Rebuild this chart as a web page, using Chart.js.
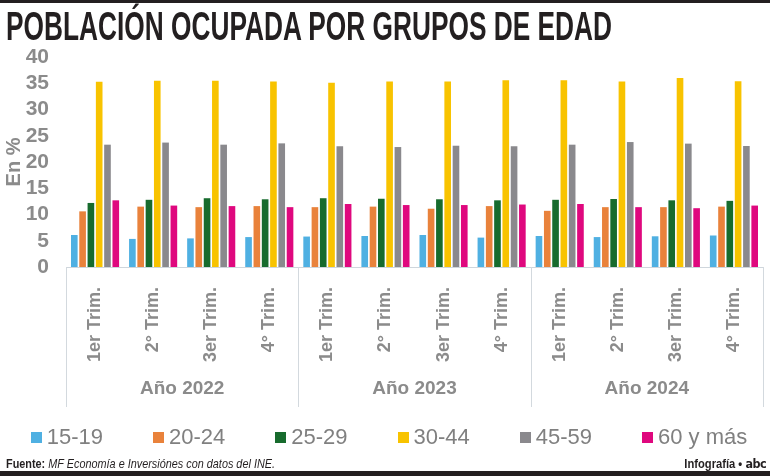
<!DOCTYPE html>
<html><head><meta charset="utf-8">
<script src="https://cdn.jsdelivr.net/npm/chart.js@4.4.0/dist/chart.umd.min.js"></script>
<style>
html,body{margin:0;padding:0;background:#fff;}
#wrap{position:relative;width:770px;height:476px;overflow:hidden;font-family:"Liberation Sans",Arial,sans-serif;}
#topbar{position:absolute;left:0;top:0;width:770px;height:3px;background:#231f20;}
#botbar{position:absolute;left:0;top:471px;width:770px;height:5px;background:#231f20;}
#title{position:absolute;left:6px;top:6px;font-weight:bold;font-size:41px;line-height:1;white-space:nowrap;transform-origin:0 0;color:#231f20;}
#src{position:absolute;left:6px;top:457px;font-size:13px;line-height:1;white-space:nowrap;transform-origin:0 0;color:#231f20;}
#src b{font-weight:bold;}
#src i{font-style:italic;}
#credit{position:absolute;right:4px;top:457px;font-size:13px;line-height:1;white-space:nowrap;transform-origin:100% 0;color:#231f20;font-weight:bold;}
#credit .logo{font-family:"DejaVu Sans",sans-serif;font-weight:900;letter-spacing:-0.5px;}
canvas{position:absolute;left:0;top:0;}
</style></head>
<body>
<div id="wrap">
  <canvas id="c" width="770" height="476"></canvas>
  <div id="topbar"></div>
  <div id="title">POBLACIÓN OCUPADA POR GRUPOS DE EDAD</div>
  <div id="src"><b>Fuente:</b> <i>MF Economía e Inversiónes con datos del INE.</i></div>
  <div id="credit">Infografía • <span class="logo">abc</span></div>
  <div id="botbar"></div>
</div>
<script>
const years = ['Año 2022', 'Año 2023', 'Año 2024'];
const quarters = ['1er Trim.', '2° Trim.', '3er Trim.', '4° Trim.'];
const seriesNames = ['15-19', '20-24', '25-29', '30-44', '45-59', '60 y más'];
const seriesColors = ['#4fb0e2', '#e9823b', '#176b2d', '#f8c300', '#8a898d', '#df087e'];
const age15_19 = [6.1, 5.35, 5.45, 5.7, 5.8, 5.9, 6.1, 5.6, 5.9, 5.7, 5.85, 6.0];
const age20_24 = [10.6, 11.5, 11.4, 11.6, 11.4, 11.5, 11.1, 11.6, 10.7, 11.4, 11.4, 11.5];
const age25_29 = [12.2, 12.8, 13.1, 12.9, 13.1, 13.0, 12.9, 12.7, 12.8, 12.95, 12.7, 12.6];
const age30_44 = [35.3, 35.5, 35.5, 35.35, 35.1, 35.35, 35.35, 35.55, 35.55, 35.35, 36.0, 35.4];
const age45_59 = [23.3, 23.7, 23.3, 23.55, 23.0, 22.85, 23.1, 23.0, 23.3, 23.8, 23.5, 23.05];
const age60plus = [12.7, 11.7, 11.6, 11.4, 12.0, 11.8, 11.8, 11.9, 12.0, 11.4, 11.2, 11.7];
const yTicks = [0, 5, 10, 15, 20, 25, 30, 35, 40];

const seriesValues = [age15_19, age20_24, age25_29, age30_44, age45_59, age60plus];
const labels = [];
years.forEach(() => quarters.forEach(q => labels.push(q)));

function fitWidth(id, w) {
  const el = document.getElementById(id);
  const r = el.getBoundingClientRect().width;
  el.style.transform = 'scaleX(' + (w / r) + ')';
}
fitWidth('title', 606);
fitWidth('src', 269);
fitWidth('credit', 82);

const GREY = '#8b8b8b';
const FAM = '"Liberation Sans", Arial, sans-serif';
Chart.defaults.font.family = FAM;

const yearPlugin = {
  id: 'years',
  afterDraw(chart) {
    const ctx = chart.ctx, x = chart.scales.x, ca = chart.chartArea;
    const n = quarters.length;
    const bounds = [ca.left];
    for (let i = 1; i < years.length; i++) {
      bounds.push((x.getPixelForValue(i * n - 1) + x.getPixelForValue(i * n)) / 2);
    }
    bounds.push(ca.right);
    ctx.save();
    ctx.strokeStyle = '#d3d9de';
    ctx.lineWidth = 1;
    bounds.forEach(b => {
      const px = Math.round(b) + 0.5;
      ctx.beginPath();
      ctx.moveTo(px, ca.bottom);
      ctx.lineTo(px, 407);
      ctx.stroke();
    });
    ctx.fillStyle = GREY;
    ctx.font = 'bold 19px ' + FAM;
    ctx.textAlign = 'center';
    ctx.textBaseline = 'middle';
    years.forEach((y, i) => {
      ctx.fillText(y, (bounds[i] + bounds[i + 1]) / 2, 389);
    });

    // legend built from the datasets
    const ds = chart.data.datasets;
    ctx.font = '22px ' + FAM;
    ctx.textAlign = 'left';
    const box = 11, gapBox = 5, gapItem = 50, cy = 437;
    const widths = ds.map(d => box + gapBox + ctx.measureText(d.label).width);
    const total = widths.reduce((a, b) => a + b, 0) + gapItem * (ds.length - 1);
    let cx = 389 - total / 2;
    ds.forEach((d, i) => {
      ctx.fillStyle = d.backgroundColor;
      ctx.fillRect(Math.round(cx), Math.round(cy - box / 2), box, box);
      ctx.fillStyle = '#808080';
      ctx.fillText(d.label, cx + box + gapBox, cy + 1);
      cx += widths[i] + gapItem;
    });
    ctx.restore();
  }
};

new Chart(document.getElementById('c'), {
  type: 'bar',
  data: {
    labels: labels,
    datasets: seriesNames.map((n, i) => ({
      label: n,
      data: seriesValues[i],
      backgroundColor: seriesColors[i],
      borderWidth: 0,
      categoryPercentage: 0.857,
      barPercentage: 0.8
    }))
  },
  options: {
    responsive: false,
    animation: false,
    layout: { padding: { top: 57, left: 0, right: 7, bottom: 96 } },
    plugins: {
      legend: { display: false },
      tooltip: { enabled: false }
    },
    scales: {
      x: {
        grid: { display: false },
        border: { display: true, color: '#cfd6dc', width: 1 },
        ticks: {
          autoSkip: false, minRotation: 90, maxRotation: 90, padding: 12,
          color: GREY, font: { size: 18, weight: 'bold' }
        },
        afterFit(s) { s.height = 113; }
      },
      y: {
        min: 0, max: 40,
        afterBuildTicks(s) { s.ticks = yTicks.map(v => ({ value: v })); },
        grid: { display: false },
        border: { display: false },
        ticks: { autoSkip: false, padding: 9, color: GREY, font: { size: 21, weight: 'bold' } },
        title: {
          display: true, text: 'En %', color: GREY,
          font: { size: 20, weight: 'bold' }, padding: { top: 2, bottom: 4 }
        },
        afterFit(s) { s.width = 66; }
      }
    }
  },
  plugins: [yearPlugin]
});
</script>
</body></html>
